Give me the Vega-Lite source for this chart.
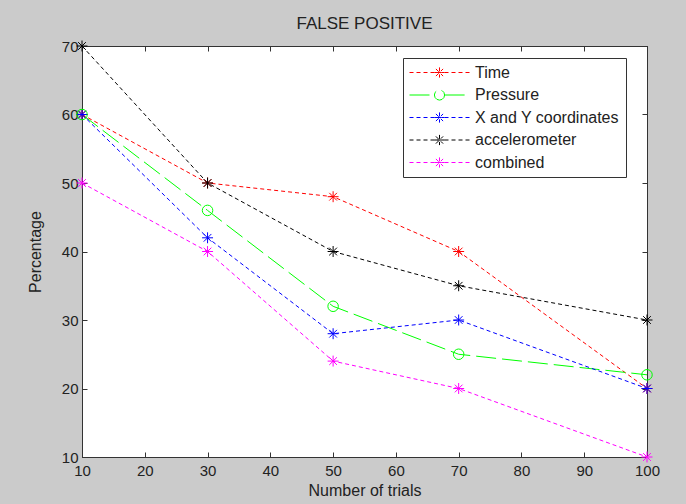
{
  "$schema": "https://vega.github.io/schema/vega-lite/v6.json",
  "width": 565,
  "height": 411,
  "autosize": {"type": "none"},
  "padding": {"left": 82, "top": 46, "right": 39, "bottom": 47},
  "background": "#cbcbcb",
  "title": {"text": "FALSE POSITIVE", "font": "Liberation Sans", "fontSize": 17, "fontWeight": "normal", "color": "#222", "offset": 6},
  "config": {
    "view": {"fill": "white", "stroke": "#333", "strokeWidth": 1},
    "axis": {"labelFont": "Liberation Sans", "labelFontSize": 15, "labelColor": "#222", "labelFlush": false, "titleFont": "Liberation Sans", "titleFontSize": 16, "titleFontWeight": "normal", "titleColor": "#222", "domainColor": "#333", "tickColor": "#333", "grid": false}
  },
  "data": {"values": [
    {"series": "Time", "trials": 10, "pct": 60},
    {"series": "Time", "trials": 30, "pct": 50},
    {"series": "Time", "trials": 50, "pct": 48},
    {"series": "Time", "trials": 70, "pct": 40},
    {"series": "Time", "trials": 100, "pct": 20},
    {"series": "Pressure", "trials": 10, "pct": 60},
    {"series": "Pressure", "trials": 30, "pct": 46},
    {"series": "Pressure", "trials": 50, "pct": 32},
    {"series": "Pressure", "trials": 70, "pct": 25},
    {"series": "Pressure", "trials": 100, "pct": 22},
    {"series": "X and Y coordinates", "trials": 10, "pct": 60},
    {"series": "X and Y coordinates", "trials": 30, "pct": 42},
    {"series": "X and Y coordinates", "trials": 50, "pct": 28},
    {"series": "X and Y coordinates", "trials": 70, "pct": 30},
    {"series": "X and Y coordinates", "trials": 100, "pct": 20},
    {"series": "accelerometer", "trials": 10, "pct": 70},
    {"series": "accelerometer", "trials": 30, "pct": 50},
    {"series": "accelerometer", "trials": 50, "pct": 40},
    {"series": "accelerometer", "trials": 70, "pct": 35},
    {"series": "accelerometer", "trials": 100, "pct": 30},
    {"series": "combined", "trials": 10, "pct": 50},
    {"series": "combined", "trials": 30, "pct": 40},
    {"series": "combined", "trials": 50, "pct": 24},
    {"series": "combined", "trials": 70, "pct": 20},
    {"series": "combined", "trials": 100, "pct": 10}
  ]},
  "layer": [
    {
      "mark": {"type": "line", "strokeWidth": 1},
      "encoding": {
        "x": {"field": "trials", "type": "quantitative", "scale": {"domain": [10, 100], "nice": false, "zero": false}, "axis": {"title": "Number of trials", "values": [10,20,30,40,50,60,70,80,90,100], "tickSize": -5, "labelPadding": 11, "titlePadding": 4}},
        "y": {"field": "pct", "type": "quantitative", "scale": {"domain": [10, 70], "nice": false, "zero": false}, "axis": {"title": "Percentage", "values": [10,20,30,40,50,60,70], "tickSize": -5, "labelPadding": 9, "titlePadding": 18}},
        "color": {"field": "series", "type": "nominal", "sort": null,
          "scale": {"domain": ["Time", "Pressure", "X and Y coordinates", "accelerometer", "combined"], "range": ["#ff0000", "#00ff00", "#0000ff", "#000000", "#ff00ff"]},
          "legend": {"title": null, "orient": "none", "legendX": 321, "legendY": 12, "fillColor": "white", "strokeColor": "#333", "padding": 6, "symbolSize": 3600, "clipHeight": 17, "rowPadding": 5.5, "labelOffset": 5, "labelFont": "Liberation Sans", "labelFontSize": 16, "labelColor": "#222", "symbolStrokeWidth": 1,
            "encode": {"symbols": {"update": {
              "shape": {"signal": "datum.value === 'Pressure' ? 'M-1,0H-0.17M0.17,0H1M0.17,0L0.147,0.085L0.085,0.147L0,0.17L-0.085,0.147L-0.147,0.085L-0.17,0L-0.147,-0.085L-0.085,-0.147L0,-0.17L0.085,-0.147L0.147,-0.085Z' : 'M-1,0H1M0,-0.17V0.17M-0.17,0H0.17M-0.12,-0.12L0.12,0.12M-0.12,0.12L0.12,-0.12'"},
              "strokeDash": {"signal": "datum.value === 'Pressure' ? [1,0] : [4,3]"},
              "fill": {"value": "transparent"}
            }}}
          }},
        "strokeDash": {"field": "series", "type": "nominal", "legend": null,
          "scale": {"domain": ["Time", "Pressure", "X and Y coordinates", "accelerometer", "combined"], "range": [[4,3],[20,6],[4,3],[4,3],[4,3]]}}
      }
    },
    {
      "transform": [{"filter": "datum.series !== 'Pressure'"}],
      "mark": {"type": "point", "filled": false, "strokeWidth": 1, "opacity": 1, "shape": "M0,-1V1M-1,0H1M-0.7,-0.7L0.7,0.7M-0.7,0.7L0.7,-0.7", "size": 120},
      "encoding": {
        "x": {"field": "trials", "type": "quantitative", "axis": {"orient": "top", "title": null, "labels": false, "values": [10,20,30,40,50,60,70,80,90,100], "tickSize": -5}},
        "y": {"field": "pct", "type": "quantitative", "axis": {"orient": "right", "title": null, "labels": false, "values": [10,20,30,40,50,60,70], "tickSize": -5}},
        "color": {"field": "series", "type": "nominal", "legend": null}
      }
    },
    {
      "transform": [{"filter": "datum.series === 'Pressure'"}],
      "mark": {"type": "point", "filled": false, "strokeWidth": 1, "opacity": 1, "shape": "circle", "size": 110},
      "encoding": {
        "x": {"field": "trials", "type": "quantitative", "axis": null},
        "y": {"field": "pct", "type": "quantitative", "axis": null},
        "color": {"field": "series", "type": "nominal", "legend": null}
      }
    }
  ],
  "resolve": {"axis": {"x": "independent", "y": "independent"}}
}
